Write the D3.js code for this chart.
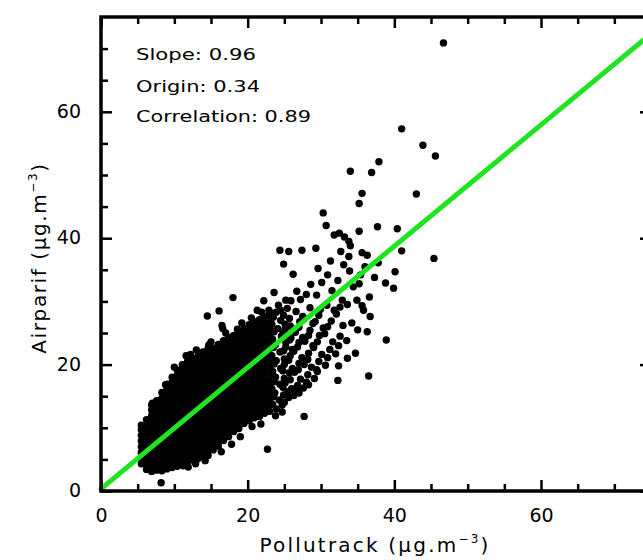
<!DOCTYPE html>
<html>
<head>
<meta charset="utf-8">
<script src="https://cdn.jsdelivr.net/npm/d3@7"></script>
<style>
  html, body { margin: 0; padding: 0; background: #fff; }
  svg { display: block; }
  text { font-family: "DejaVu Sans", sans-serif; fill: #000; }
</style>
</head>
<body>
<svg id="chart" width="643" height="560"></svg>
<script>
// ---------- data ----------
const axisDomain = [0, 75];
const majorTicks = [0, 20, 40, 60];
const minorTicks = [5, 10, 15, 25, 30, 35, 45, 50, 55, 65, 70];
const fitSlope = 0.96;
const fitOrigin = 0.34;
const annotations = ["Slope: 0.96", "Origin: 0.34", "Correlation: 0.89"];

// dense cloud, column by column: [Pollutrack x, Airparif y values...]
const cloudColumns = [
  [5.5, 4.3, 5.2, 6.1, 7.0, 7.9, 8.8, 9.7, 10.4],
  [6.2, 3.4, 4.2, 5.1, 6.0, 6.9, 7.8, 8.7, 9.6, 10.5, 11.3],
  [6.9, 3.1, 3.9, 4.7, 5.6, 6.5, 7.4, 8.3, 9.2, 10.1, 11.0, 11.9, 12.8, 13.6],
  [7.6, 3.3, 4.3, 5.2, 6.1, 7.0, 7.9, 8.8, 9.7, 10.6, 11.5, 12.4, 13.3, 14.3],
  [8.3, 3.2, 3.9, 4.8, 5.7, 6.6, 7.5, 8.4, 9.3, 10.2, 11.1, 12.0, 12.9, 13.8, 14.7, 15.6],
  [9.0, 3.5, 4.4, 5.3, 6.2, 7.1, 8.0, 8.9, 9.8, 10.7, 11.6, 12.5, 13.4, 14.3, 15.2, 16.1, 16.9],
  [9.7, 3.7, 4.6, 5.5, 6.4, 7.3, 8.2, 9.1, 10.0, 10.9, 11.8, 12.7, 13.6, 14.5, 15.4, 16.3, 17.2, 18.0],
  [10.4, 3.9, 4.8, 5.7, 6.6, 7.5, 8.4, 9.3, 10.2, 11.1, 12.0, 12.9, 13.8, 14.7, 15.6, 16.5, 17.4, 18.3, 19.1],
  [11.1, 4.3, 5.2, 6.1, 7.0, 7.9, 8.8, 9.7, 10.6, 11.5, 12.4, 13.3, 14.2, 15.1, 16.0, 16.9, 17.8, 18.7, 19.5, 20.0],
  [11.8, 4.5, 5.4, 6.3, 7.2, 8.1, 9.0, 9.9, 10.8, 11.7, 12.6, 13.5, 14.4, 15.3, 16.2, 17.1, 18.0, 18.9, 19.8, 20.5],
  [12.5, 4.9, 5.8, 6.7, 7.6, 8.5, 9.4, 10.3, 11.2, 12.1, 13.0, 13.9, 14.8, 15.7, 16.6, 17.5, 18.4, 19.3, 20.2, 20.9],
  [13.2, 5.1, 6.0, 6.9, 7.8, 8.7, 9.6, 10.5, 11.4, 12.3, 13.2, 14.1, 15.0, 15.9, 16.8, 17.7, 18.6, 19.5, 20.4, 21.3],
  [13.9, 5.5, 6.4, 7.3, 8.2, 9.1, 10.0, 10.9, 11.8, 12.7, 13.6, 14.5, 15.4, 16.3, 17.2, 18.1, 19.0, 19.9, 20.8, 21.6, 22.0],
  [14.6, 5.6, 6.5, 7.4, 8.3, 9.2, 10.1, 11.0, 11.9, 12.8, 13.7, 14.6, 15.5, 16.4, 17.3, 18.2, 19.1, 20.0, 20.9, 21.8, 22.5],
  [15.3, 6.5, 7.4, 8.3, 9.2, 10.1, 11.0, 11.9, 12.8, 13.7, 14.6, 15.5, 16.4, 17.3, 18.2, 19.1, 20.0, 20.9, 21.8, 22.6],
  [16.0, 7.1, 8.0, 8.9, 9.8, 10.7, 11.6, 12.5, 13.4, 14.3, 15.2, 16.1, 17.0, 17.9, 18.8, 19.7, 20.6, 21.5, 22.4, 23.2],
  [16.7, 8.0, 8.9, 9.8, 10.7, 11.6, 12.5, 13.4, 14.3, 15.2, 16.1, 17.0, 17.9, 18.8, 19.7, 20.6, 21.5, 22.4, 23.3, 23.8],
  [17.4, 8.6, 9.5, 10.4, 11.3, 12.2, 13.1, 14.0, 14.9, 15.8, 16.7, 17.6, 18.5, 19.4, 20.3, 21.2, 22.1, 23.0, 23.9, 24.3],
  [18.1, 9.4, 10.3, 11.2, 12.1, 13.0, 13.9, 14.8, 15.7, 16.6, 17.5, 18.4, 19.3, 20.2, 21.1, 22.0, 22.9, 23.8, 24.6],
  [18.8, 9.9, 10.8, 11.7, 12.6, 13.5, 14.4, 15.3, 16.2, 17.1, 18.0, 18.9, 19.8, 20.7, 21.6, 22.5, 23.4, 24.3, 25.1],
  [19.5, 10.7, 11.6, 12.5, 13.4, 14.3, 15.2, 16.1, 17.0, 17.9, 18.8, 19.7, 20.6, 21.5, 22.4, 23.3, 24.2, 25.1, 25.7],
  [20.2, 11.1, 12.0, 12.9, 13.8, 14.7, 15.6, 16.5, 17.4, 18.3, 19.2, 20.1, 21.0, 21.9, 22.8, 23.7, 24.6, 25.5, 26.3],
  [20.9, 11.6, 12.5, 13.4, 14.3, 15.2, 16.1, 17.0, 17.9, 18.8, 19.7, 20.6, 21.5, 22.4, 23.3, 24.2, 25.1, 26.0, 26.8],
  [21.6, 11.8, 12.7, 13.6, 14.5, 15.4, 16.3, 17.2, 18.1, 19.0, 19.9, 20.8, 21.7, 22.6, 23.5, 24.4, 25.3, 26.2, 27.1],
  [22.3, 12.3, 13.2, 14.1, 15.0, 15.9, 16.8, 17.7, 18.6, 19.5, 20.4, 21.3, 22.2, 23.1, 24.0, 24.9, 25.8, 26.7, 27.6],
  [23.0, 12.6, 13.6, 14.6, 15.6, 16.6, 17.6, 18.6, 19.6, 20.6, 21.6, 22.6, 23.6, 24.6, 25.6, 26.6, 27.6, 28.3]
];

// ragged edge points of the dense cloud: [Pollutrack, Airparif]
const cloudEdge = [
  [10.0, 19.6], [12.2, 21.6], [13.0, 22.3], [15.0, 23.6], [17.0, 25.0], [19.2, 26.6], [20.5, 27.4],
  [21.9, 28.3], [12.9, 4.3], [14.2, 4.8], [16.4, 6.2], [17.8, 7.4], [19.0, 8.6], [20.6, 10.2],
  [21.8, 10.6], [23.8, 11.9]
];

// looser part of the cloud, read point by point: [Pollutrack, Airparif]
const looseCloud = [
  [23.4, 13.7], [23.5, 14.9], [23.3, 16.2], [23.6, 17.3], [23.4, 18.9], [23.6, 20.1], [23.3, 21.4],
  [23.5, 22.7], [23.4, 24.0], [23.6, 25.2], [23.3, 26.4], [23.5, 27.5],
  [23.9, 13.0], [24.3, 14.4], [23.7, 15.5], [24.4, 16.9], [23.8, 18.0], [24.5, 19.4], [23.9, 20.6],
  [24.4, 22.0], [23.8, 23.2], [24.6, 24.5], [24.1, 25.7], [24.5, 27.0], [23.9, 28.3], [24.2, 29.4],
  [24.7, 13.6], [24.9, 15.2], [24.8, 16.4], [25.0, 17.8], [24.8, 19.0], [25.0, 20.9], [24.9, 22.2],
  [25.2, 23.5], [24.8, 24.9], [25.1, 26.4], [24.9, 27.8],
  [25.0, 14.0], [25.5, 15.7], [25.1, 17.1], [25.7, 18.7], [25.0, 20.0], [25.8, 21.4], [25.2, 22.8],
  [25.9, 24.2], [25.1, 25.6], [25.7, 27.3], [25.4, 28.9], [25.9, 30.1],
  [25.6, 14.8], [26.0, 16.2], [25.8, 17.6], [26.1, 19.4], [25.6, 20.7], [26.1, 22.4], [25.7, 23.9],
  [26.2, 25.6], [25.8, 26.1],
  [26.3, 15.1], [26.8, 16.7], [26.4, 18.8], [27.0, 20.2], [26.3, 22.1], [27.0, 23.5], [26.5, 25.1],
  [27.1, 26.8], [26.6, 28.4], [27.2, 30.3], [26.7, 31.6],
  [26.7, 15.9], [27.2, 17.7], [26.9, 19.2], [27.4, 21.1], [26.8, 22.8], [27.5, 24.3], [27.0, 25.9],
  [27.5, 27.6],
  [27.6, 16.3], [28.2, 18.4], [27.7, 20.0], [28.3, 21.8], [27.8, 23.7], [28.5, 25.4], [27.7, 27.3],
  [28.5, 29.0], [28.0, 31.1], [28.6, 32.7],
  [28.0, 17.2], [28.7, 19.6], [28.2, 20.8], [28.9, 23.0], [28.3, 24.6], [28.9, 26.5],
  [29.1, 17.8], [29.7, 20.5], [29.0, 22.7], [29.8, 24.6], [29.2, 26.8], [29.9, 28.7], [29.4, 31.0],
  [30.1, 33.0], [29.6, 35.2],
  [29.4, 19.2], [30.1, 21.6], [29.5, 23.6], [30.3, 25.8], [29.7, 27.8],
  [30.6, 19.9], [31.2, 22.4], [30.5, 24.9], [31.4, 26.9], [30.8, 29.4], [31.5, 31.7], [30.9, 34.2],
  [31.3, 36.4],
  [30.9, 21.1], [31.6, 23.6], [30.9, 26.0], [31.8, 28.6],
  [32.0, 21.7], [32.6, 24.5], [32.1, 28.0], [32.9, 30.2], [32.3, 33.3], [33.1, 35.8],
  [32.4, 23.0], [33.0, 26.2], [32.6, 29.1],
  [33.5, 23.8], [34.2, 26.6], [33.6, 29.5], [34.4, 32.3], [33.9, 34.8],
  [35.0, 25.5], [35.6, 29.3], [35.2, 32.8], [36.0, 35.5],
  [36.6, 30.7], [37.3, 33.8], [37.8, 36.1]
];

// scattered points outside the cloud: [Pollutrack, Airparif]
const scatterPoints = [
  [46.7, 70.9], [41.0, 57.3], [43.9, 54.7], [45.6, 53.0], [37.9, 52.1], [34.0, 50.6],
  [36.9, 50.4], [43.0, 47.0], [35.6, 47.1], [35.2, 45.5], [30.3, 44.0], [30.7, 42.0],
  [35.2, 41.1], [37.7, 41.8], [40.4, 41.5], [31.8, 40.5], [32.5, 40.8], [33.2, 40.2],
  [33.8, 39.5], [34.0, 38.8], [24.4, 38.1], [25.6, 37.9], [27.4, 38.1], [29.3, 38.4],
  [32.7, 37.9], [35.6, 37.7], [41.0, 38.0], [45.4, 36.8], [22.7, 6.6], [27.7, 11.8],
  [36.5, 18.2], [32.3, 17.5], [38.9, 23.9], [36.3, 25.2], [18.0, 30.6], [14.5, 27.7],
  [16.1, 28.5], [11.6, 21.4], [7.0, 13.9], [8.8, 16.8], [14.7, 22.8], [16.6, 25.7],
  [18.6, 25.6], [24.9, 35.9], [26.2, 34.3], [23.6, 31.4], [22.2, 30.1], [25.2, 30.2],
  [21.3, 28.6], [22.9, 28.6], [24.5, 28.6], [33.6, 21.0], [34.7, 21.8], [32.4, 19.8],
  [28.3, 16.8], [27.0, 15.5], [29.5, 18.9], [24.7, 12.5], [39.9, 32.1], [38.8, 32.9],
  [40.1, 34.7], [34.9, 30.2], [35.8, 28.6], [36.7, 27.6], [35.4, 34.2], [36.3, 37.3],
  [33.8, 37.1], [8.2, 1.3], [11.2, 4.0], [11.9, 3.8], [14.7, 23.1], [16.5, 26.2]
];

// ---------- drawing ----------
const svg = d3.select("#chart");
const x = d3.scaleLinear().domain(axisDomain).range([101, 651]);
const y = d3.scaleLinear().domain(axisDomain).range([491, 17]);

const points = [];
cloudColumns.forEach(col => col.slice(1).forEach(v => points.push([col[0], v])));
cloudEdge.forEach(p => points.push(p));
looseCloud.forEach(p => points.push(p));
scatterPoints.forEach(p => points.push(p));

svg.append("g").selectAll("circle").data(points).join("circle")
  .attr("cx", d => x(d[0])).attr("cy", d => y(d[1]))
  .attr("r", 3.7).attr("fill", "#000");

// fit line
svg.append("line")
  .attr("x1", x(0)).attr("y1", y(fitOrigin))
  .attr("x2", x(75)).attr("y2", y(fitSlope * 75 + fitOrigin))
  .attr("stroke", "#1fe41f").attr("stroke-width", 5).attr("stroke-linecap", "round");

// axes (inward ticks on all four sides)
function styleAxis(g, w) {
  g.select(".domain").remove();
  g.selectAll(".tick line").attr("stroke", "#000").attr("stroke-width", w);
}
const fontSize = 19;
svg.append("g").attr("transform", `translate(0,${y(0)})`)
  .call(d3.axisBottom(x).tickValues(majorTicks).tickSize(-11).tickPadding(22).tickFormat(d3.format("d")))
  .call(g => { styleAxis(g, 2.5); g.selectAll("text").attr("font-size", fontSize).attr("font-family", "DejaVu Sans").attr("dy", "0.45em"); });
svg.append("g").attr("transform", `translate(0,${y(0)})`)
  .call(d3.axisBottom(x).tickValues(minorTicks).tickSize(-7).tickFormat(""))
  .call(g => styleAxis(g, 2.5));
svg.append("g").attr("transform", `translate(0,${y(75)})`)
  .call(d3.axisTop(x).tickValues(majorTicks).tickSize(-11).tickFormat(""))
  .call(g => styleAxis(g, 2.5));
svg.append("g").attr("transform", `translate(0,${y(75)})`)
  .call(d3.axisTop(x).tickValues(minorTicks).tickSize(-7).tickFormat(""))
  .call(g => styleAxis(g, 2.5));
svg.append("g").attr("transform", `translate(${x(0)},0)`)
  .call(d3.axisLeft(y).tickValues(majorTicks).tickSize(-11).tickPadding(20).tickFormat(d3.format("d")))
  .call(g => { styleAxis(g, 2.5); g.selectAll("text").attr("font-size", fontSize).attr("font-family", "DejaVu Sans").attr("dy", "0.3em"); });
svg.append("g").attr("transform", `translate(${x(0)},0)`)
  .call(d3.axisLeft(y).tickValues(minorTicks).tickSize(-7).tickFormat(""))
  .call(g => styleAxis(g, 2.5));
svg.append("g").attr("transform", `translate(${x(75)},0)`)
  .call(d3.axisRight(y).tickValues(majorTicks).tickSize(-11).tickFormat(""))
  .call(g => styleAxis(g, 2.5));
svg.append("g").attr("transform", `translate(${x(75)},0)`)
  .call(d3.axisRight(y).tickValues(minorTicks).tickSize(-7).tickFormat(""))
  .call(g => styleAxis(g, 2.5));

// frame
svg.append("rect")
  .attr("x", x(0)).attr("y", y(75))
  .attr("width", x(75) - x(0)).attr("height", y(0) - y(75))
  .attr("fill", "none").attr("stroke", "#000").attr("stroke-width", 3.5);

// annotation text
const annoBaselines = [60, 92, 122];
const annoLengths = [120, 124, 175];
svg.append("g").selectAll("text").data(annotations).join("text")
  .attr("x", 136).attr("y", (d, i) => annoBaselines[i])
  .attr("font-size", 15.5)
  .attr("textLength", (d, i) => annoLengths[i])
  .attr("lengthAdjust", "spacingAndGlyphs")
  .text(d => d);

// axis titles
const xt = svg.append("text")
  .attr("x", 375).attr("y", 552)
  .attr("text-anchor", "middle")
  .attr("font-size", 20)
  .attr("letter-spacing", 2.2);
xt.append("tspan").text("Pollutrack (μg.m");
xt.append("tspan").attr("font-size", 12).attr("dy", -9).text("−3");
xt.append("tspan").attr("dy", 9).text(")");

const yt = svg.append("text")
  .attr("transform", "translate(46,258) rotate(-90)")
  .attr("text-anchor", "middle")
  .attr("font-size", 20)
  .attr("letter-spacing", 1.6);
yt.append("tspan").text("Airparif (μg.m");
yt.append("tspan").attr("font-size", 12).attr("dy", -9).text("−3");
yt.append("tspan").attr("dy", 9).text(")");
</script>
</body>
</html>
